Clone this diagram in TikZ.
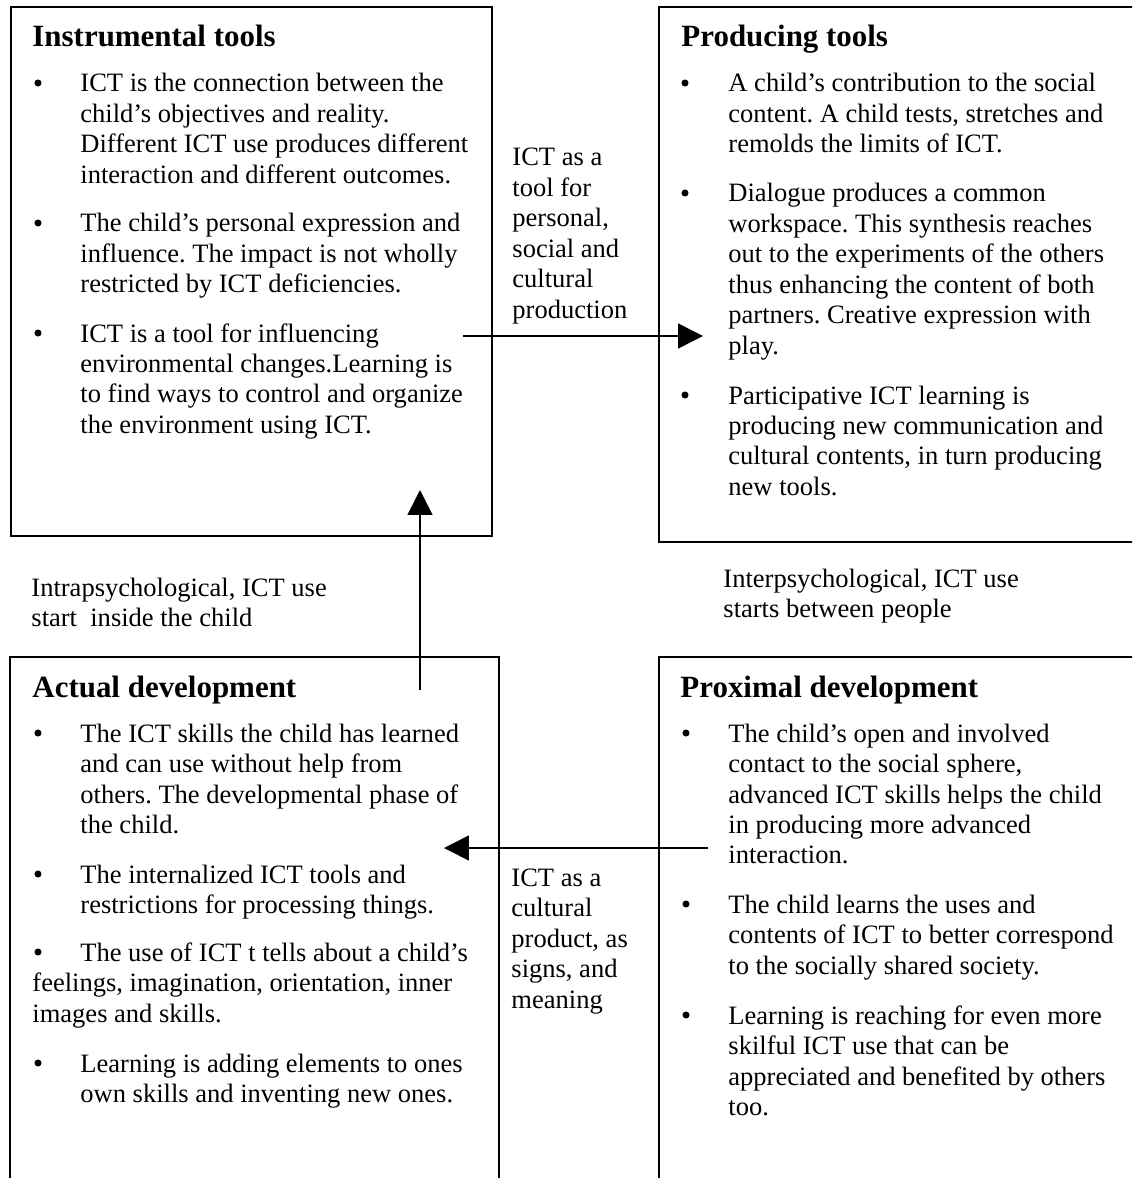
\documentclass[tikz,border=0pt]{standalone}
\usepackage{fontspec}
\setmainfont{Liberation Serif}
\usetikzlibrary{arrows.meta}
\frenchspacing
\newcommand{\plines}[1]{\parbox[t]{300pt}{\raggedright #1}}
\tikzset{
  body/.style={anchor=base west, inner sep=0pt, font=\fontsize{12}{13.8}\selectfont},
  head/.style={anchor=base west, inner sep=0pt, font=\fontsize{14}{16}\selectfont\bfseries},
  bul/.style={circle, fill=black, inner sep=0pt, minimum size=3.2pt},
  boxline/.style={line width=0.75pt},
  conn/.style={line width=0.75pt, -{Triangle[length=11.3pt,width=11.3pt]}},
}
\begin{document}
\begin{tikzpicture}[x=0.4525pt, y=-0.4525pt]
\useasboundingbox (0,0) rectangle (1132,1178);
\clip (0,0) rectangle (1132,1178);
% boxes
\draw[boxline] (11,7) rectangle (492,536);
\draw[boxline] (1150,542) -- (659,542) -- (659,7) -- (1150,7);
\draw[boxline] (10,1190) -- (10,657) -- (499,657) -- (499,1190);
\draw[boxline] (659,1190) -- (659,657) -- (1150,657);
% top left
\node[head] (tlh) at (32,47) {Instrumental tools};
\node[bul] (tld1) at (38,83) {};
\node[body] (tlt1) at (80,92) {\plines{ICT is the connection between the\\child’s objectives and reality.\\Different ICT use produces different\\interaction and different outcomes.}};
\node[bul] (tld2) at (38,223) {};
\node[body] (tlt2) at (80,232) {\plines{The child’s personal expression and\\influence. The impact is not wholly\\restricted by ICT deficiencies.}};
\node[bul] (tld3) at (38,333) {};
\node[body] (tlt3) at (80,342) {\plines{ICT is a tool for influencing\\environmental changes.Learning is\\to find ways to control and organize\\the environment using ICT.}};
% label top
\node[body] (lab1) at (512,166) {\plines{ICT as a\\tool for\\personal,\\social and\\cultural\\production}};
% top right
\node[head] (trh) at (681,47) {Producing tools};
\node[bul] (trd1) at (685,83) {};
\node[body] (trt1) at (728,92) {\plines{A child’s contribution to the social\\content. A child tests, stretches and\\remolds the limits of ICT.}};
\node[bul] (trd2) at (685,193) {};
\node[body] (trt2) at (728,202) {\plines{Dialogue produces a common\\workspace. This synthesis reaches\\out to the experiments of the others\\thus enhancing the content of both\\partners. Creative expression with\\play.}};
\node[bul] (trd3) at (685,395) {};
\node[body] (trt3) at (728,404) {\plines{Participative ICT learning is\\producing new communication and\\cultural contents, in turn producing\\new tools.}};
% middle labels
\node[body] (intra) at (31,596) {\plines{Intrapsychological, ICT use\\start\ \ inside the child}};
\node[body] (inter) at (723,587) {\plines{Interpsychological, ICT use\\starts between people}};
% bottom left
\node[head] (blh) at (32,697) {Actual development};
\node[bul] (bld1) at (38,733) {};
\node[body] (blt1) at (80,742) {\plines{The ICT skills the child has learned\\and can use without help from\\others. The developmental phase of\\the child.}};
\node[bul] (bld2) at (38,874) {};
\node[body] (blt2) at (80,883) {\plines{The internalized ICT tools and\\restrictions for processing things.}};
\node[bul] (bld3) at (38,952) {};
\node[body] (blt3) at (32,961) {\plines{\hspace*{21.7pt}The use of ICT t tells about a child’s\\feelings, imagination, orientation, inner\\images and skills.}};
\node[bul] (bld4) at (38,1063) {};
\node[body] (blt4) at (80,1072) {\plines{Learning is adding elements to ones\\own skills and inventing new ones.}};
% label bottom
\node[body] (lab2) at (511,886) {\plines{ICT as a\\cultural\\product, as\\signs, and\\meaning}};
% bottom right
\node[head] (brh) at (680,697) {Proximal development};
\node[bul] (brd1) at (686,733) {};
\node[body] (brt1) at (728,742) {\plines{The child’s open and involved\\contact to the social sphere,\\advanced ICT skills helps the child\\in producing more advanced\\interaction.}};
\node[bul] (brd2) at (686,904) {};
\node[body] (brt2) at (728,913) {\plines{The child learns the uses and\\contents of ICT to better correspond\\to the socially shared society.}};
\node[bul] (brd3) at (686,1015) {};
\node[body] (brt3) at (728,1024) {\plines{Learning is reaching for even more\\skilful ICT use that can be\\appreciated and benefited by others\\too.}};
% connectors
\coordinate (a1s) at (463,336);
\coordinate (a1e) at (703,336);
\coordinate (a2s) at (420,690);
\coordinate (a2e) at (420,490);
\coordinate (a3s) at (708,848);
\coordinate (a3e) at (444,848);
\draw[conn] (a1s) -- (a1e);
\draw[conn] (a2s) -- (a2e);
\draw[conn] (a3s) -- (a3e);
\end{tikzpicture}
\end{document}
